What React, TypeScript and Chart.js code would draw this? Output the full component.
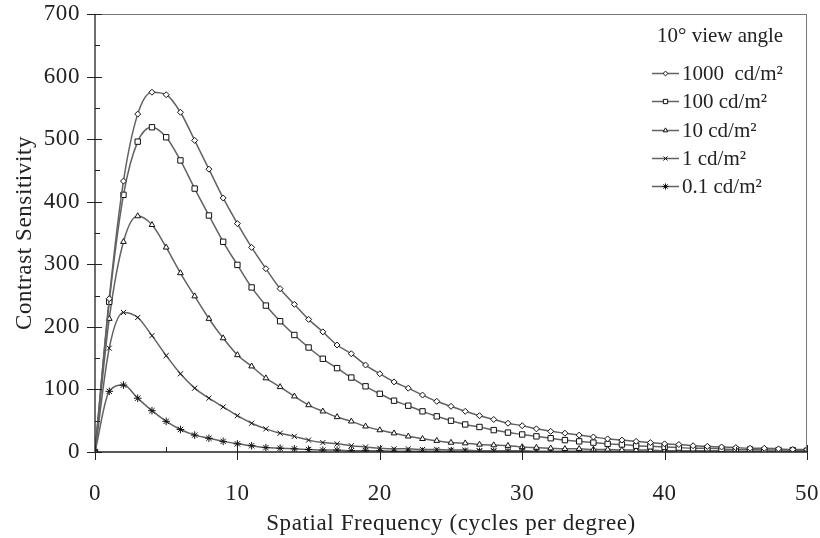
import React, { useEffect, useRef } from 'react';
import { Chart, registerables } from 'chart.js';
import { drawPoint } from 'chart.js/helpers';

Chart.register(...registerables);

// Spatial frequency (cycles per degree)
const frequencies = [
  0, 1, 2, 3, 4, 5, 6, 7, 8, 9, 10, 11, 12, 13, 14, 15, 16, 17, 18, 19, 20, 21, 22, 23, 24, 25,
  26, 27, 28, 29, 30, 31, 32, 33, 34, 35, 36, 37, 38, 39, 40, 41, 42, 43, 44, 45, 46, 47, 48, 49, 50,
];

// Contrast sensitivity per luminance level
const cs1000 = [
  0, 245, 433, 540, 575, 571, 543, 498, 452, 406, 365, 327, 293, 261, 236, 212, 192, 171, 157, 139, 125,
  112, 102, 91, 81, 73, 65, 58, 52, 46, 42, 37, 33, 30, 27, 24, 21, 19, 17, 15, 13, 12, 10, 9, 8, 7, 6,
  6, 5, 4, 4,
];
const cs100 = [
  0, 240, 411, 496, 519, 503, 466, 421, 378, 336, 299, 263, 234, 209, 187, 167, 149, 134, 119, 105, 93,
  82, 74, 65, 57, 50, 44, 40, 35, 31, 28, 25, 22, 19, 17, 15, 13, 12, 10, 9, 8, 7, 6, 6, 5, 4, 4, 3, 3,
  3, 2,
];
const cs10 = [
  0, 213, 336, 377, 363, 327, 286, 249, 213, 182, 155, 137, 118, 104, 89, 75, 65, 56, 49, 41, 35, 30,
  25, 21, 18, 15, 14, 12, 11, 10, 8, 7, 6, 5, 5, 4, 4, 3, 3, 3, 2, 2, 2, 2, 2, 1, 1, 1, 1, 1, 1,
];
const cs1 = [
  0, 166, 223, 215, 186, 154, 125, 102, 86, 72, 58, 46, 37, 30, 25, 19, 15, 13, 10, 8, 6, 5, 5, 4, 4, 3,
  3, 2, 2, 2, 2, 1, 1, 1, 1, 1, 1, 1, 1, 1, 1, 0, 0, 0, 0, 0, 0, 0, 0, 0, 0,
];
const cs01 = [
  0, 97, 107, 86, 66, 49, 36, 27, 22, 17, 13, 10, 7, 6, 5, 4, 3, 3, 2, 2, 2, 1, 1, 1, 1, 1, 1, 1, 1, 0,
  0, 0, 0, 0, 0, 0, 0, 0, 0, 0, 0, 0, 0, 0, 0, 0, 0, 0, 0, 0, 0,
];

const seriesLabels = ['1000  cd/m²', '100 cd/m²', '10 cd/m²', '1 cd/m²', '0.1 cd/m²'];
const legendTitle = '10° view angle';

const xMajorTicks = [0, 10, 20, 30, 40, 50];
const xMinorTicks = [5, 15, 25, 35, 45];
const yMajorTicks = [0, 100, 200, 300, 400, 500, 600, 700];
const yMinorTicks = [50, 150, 250, 350, 450, 550, 650];

const FONT = '"Liberation Serif", "Times New Roman", serif';
const TEXT = '#222';
const LINE = '#626262';
const MARK = '#111';

const seriesStyle = [
  { pointStyle: 'rectRot', radius: 3 },
  { pointStyle: 'rect', radius: 3.8 },
  { pointStyle: 'triangle', radius: 3.3 },
  { pointStyle: 'crossRot', radius: 3.6 },
  { pointStyle: 'star', radius: 3.8 },
];

const decorPlugin = {
  id: 'decor',
  beforeDraw(chart: any) {
    (chart.ctx as any).letterSpacing = '0.6px';
  },
  afterDraw(chart: any) {
    const ctx = chart.ctx as CanvasRenderingContext2D;
    const { left, right, top, bottom } = chart.chartArea;
    const xs = chart.scales.x;
    const ys = chart.scales.y;
    ctx.save();
    // frame
    ctx.lineWidth = 1;
    ctx.strokeStyle = '#777';
    ctx.beginPath();
    ctx.moveTo(left, top + 0.5);
    ctx.lineTo(right, top + 0.5);
    ctx.moveTo(right - 0.5, top);
    ctx.lineTo(right - 0.5, bottom);
    ctx.stroke();
    ctx.strokeStyle = '#222';
    ctx.lineWidth = 1.3;
    ctx.beginPath();
    ctx.moveTo(left, top);
    ctx.lineTo(left, bottom);
    ctx.lineTo(right, bottom);
    ctx.stroke();
    // ticks
    ctx.lineWidth = 1;
    ctx.beginPath();
    yMajorTicks.forEach((v) => {
      const y = Math.round(ys.getPixelForValue(v)) + 0.5;
      ctx.moveTo(left - 8, y);
      ctx.lineTo(left + 7, y);
    });
    yMinorTicks.forEach((v) => {
      const y = Math.round(ys.getPixelForValue(v)) + 0.5;
      ctx.moveTo(left, y);
      ctx.lineTo(left + 5, y);
    });
    xMajorTicks.forEach((v) => {
      const x = Math.round(xs.getPixelForValue(v)) + 0.5;
      ctx.moveTo(x, bottom + 8);
      ctx.lineTo(x, bottom - 7);
    });
    xMinorTicks.forEach((v) => {
      const x = Math.round(xs.getPixelForValue(v)) + 0.5;
      ctx.moveTo(x, bottom);
      ctx.lineTo(x, bottom - 5);
    });
    ctx.stroke();

    // legend
    (ctx as any).letterSpacing = '0px';
    ctx.fillStyle = TEXT;
    ctx.textBaseline = 'middle';
    ctx.textAlign = 'left';
    ctx.font = `21px ${FONT}`;
    ctx.fillText(legendTitle, 657, 36);
    const rowY0 = 73;
    const rowGap = 28.3;
    chart.data.datasets.forEach((ds: any, i: number) => {
      const y = Math.round(rowY0 + i * rowGap) + 0.5;
      ctx.strokeStyle = LINE;
      ctx.lineWidth = 1.5;
      ctx.beginPath();
      ctx.moveTo(652, y);
      ctx.lineTo(679, y);
      ctx.stroke();
      ctx.strokeStyle = MARK;
      ctx.fillStyle = '#fff';
      ctx.lineWidth = 1;
      drawPoint(
        ctx,
        {
          pointStyle: ds.pointStyle,
          radius: ds.pointRadius * 0.8,
          rotation: 0,
          borderWidth: 1,
        } as any,
        665.5,
        y,
      );
      ctx.fillStyle = TEXT;
      ctx.font = `21px ${FONT}`;
      ctx.fillText(ds.label, 682, y + 1);
    });
    ctx.restore();
  },
};

export default function App() {
  const canvasRef = useRef<HTMLCanvasElement | null>(null);

  useEffect(() => {
    document.body.style.margin = '0';
    const canvas = canvasRef.current;
    if (!canvas) return;
    const allSeries = [cs1000, cs100, cs10, cs1, cs01];
    const datasets = allSeries.map((vals, i) => ({
      label: seriesLabels[i],
      data: frequencies.map((f, k) => ({ x: f, y: vals[k] })),
      borderColor: LINE,
      borderWidth: 1.5,
      cubicInterpolationMode: 'monotone' as const,
      pointStyle: seriesStyle[i].pointStyle,
      pointRadius: seriesStyle[i].radius,
      pointBorderColor: MARK,
      pointBackgroundColor: '#fff',
      pointBorderWidth: 1,
      fill: false,
    }));

    const chart = new Chart(canvas, {
      type: 'line',
      data: { datasets },
      plugins: [decorPlugin],
      options: {
        responsive: false,
        animation: false,
        devicePixelRatio: 1,
        layout: { padding: { top: 14, right: 13, bottom: 0, left: 0 } },
        plugins: {
          legend: { display: false },
          tooltip: { enabled: false },
        },
        scales: {
          x: {
            type: 'linear',
            min: 0,
            max: 50,
            grid: { display: false, drawTicks: false, tickLength: 0 },
            border: { display: false },
            ticks: {
              stepSize: 10,
              color: TEXT,
              padding: 28,
              maxRotation: 0,
              font: { family: FONT, size: 23 },
            },
            title: {
              display: true,
              text: 'Spatial Frequency (cycles per degree)',
              color: TEXT,
              font: { family: FONT, size: 23 },
              padding: { top: 6, bottom: 0 },
            },
            afterFit(scale: any) {
              scale.height = 86;
              scale.paddingLeft = 0;
              scale.paddingRight = 0;
            },
          },
          y: {
            min: 0,
            max: 700,
            grid: { display: false, drawTicks: false, tickLength: 0 },
            border: { display: false },
            ticks: {
              stepSize: 100,
              color: TEXT,
              padding: 15,
              font: { family: FONT, size: 23 },
            },
            title: {
              display: true,
              text: 'Contrast Sensitivity',
              color: TEXT,
              font: { family: FONT, size: 23 },
              padding: { top: 11, bottom: 0 },
            },
            afterFit(scale: any) {
              scale.width = 95;
              scale.paddingTop = 0;
              scale.paddingBottom = 0;
            },
          },
        },
      },
    });
    return () => chart.destroy();
  }, []);

  return (
    <div style={{ width: 820, height: 538 }}>
      <canvas ref={canvasRef} width={820} height={538} style={{ display: 'block' }} />
    </div>
  );
}
